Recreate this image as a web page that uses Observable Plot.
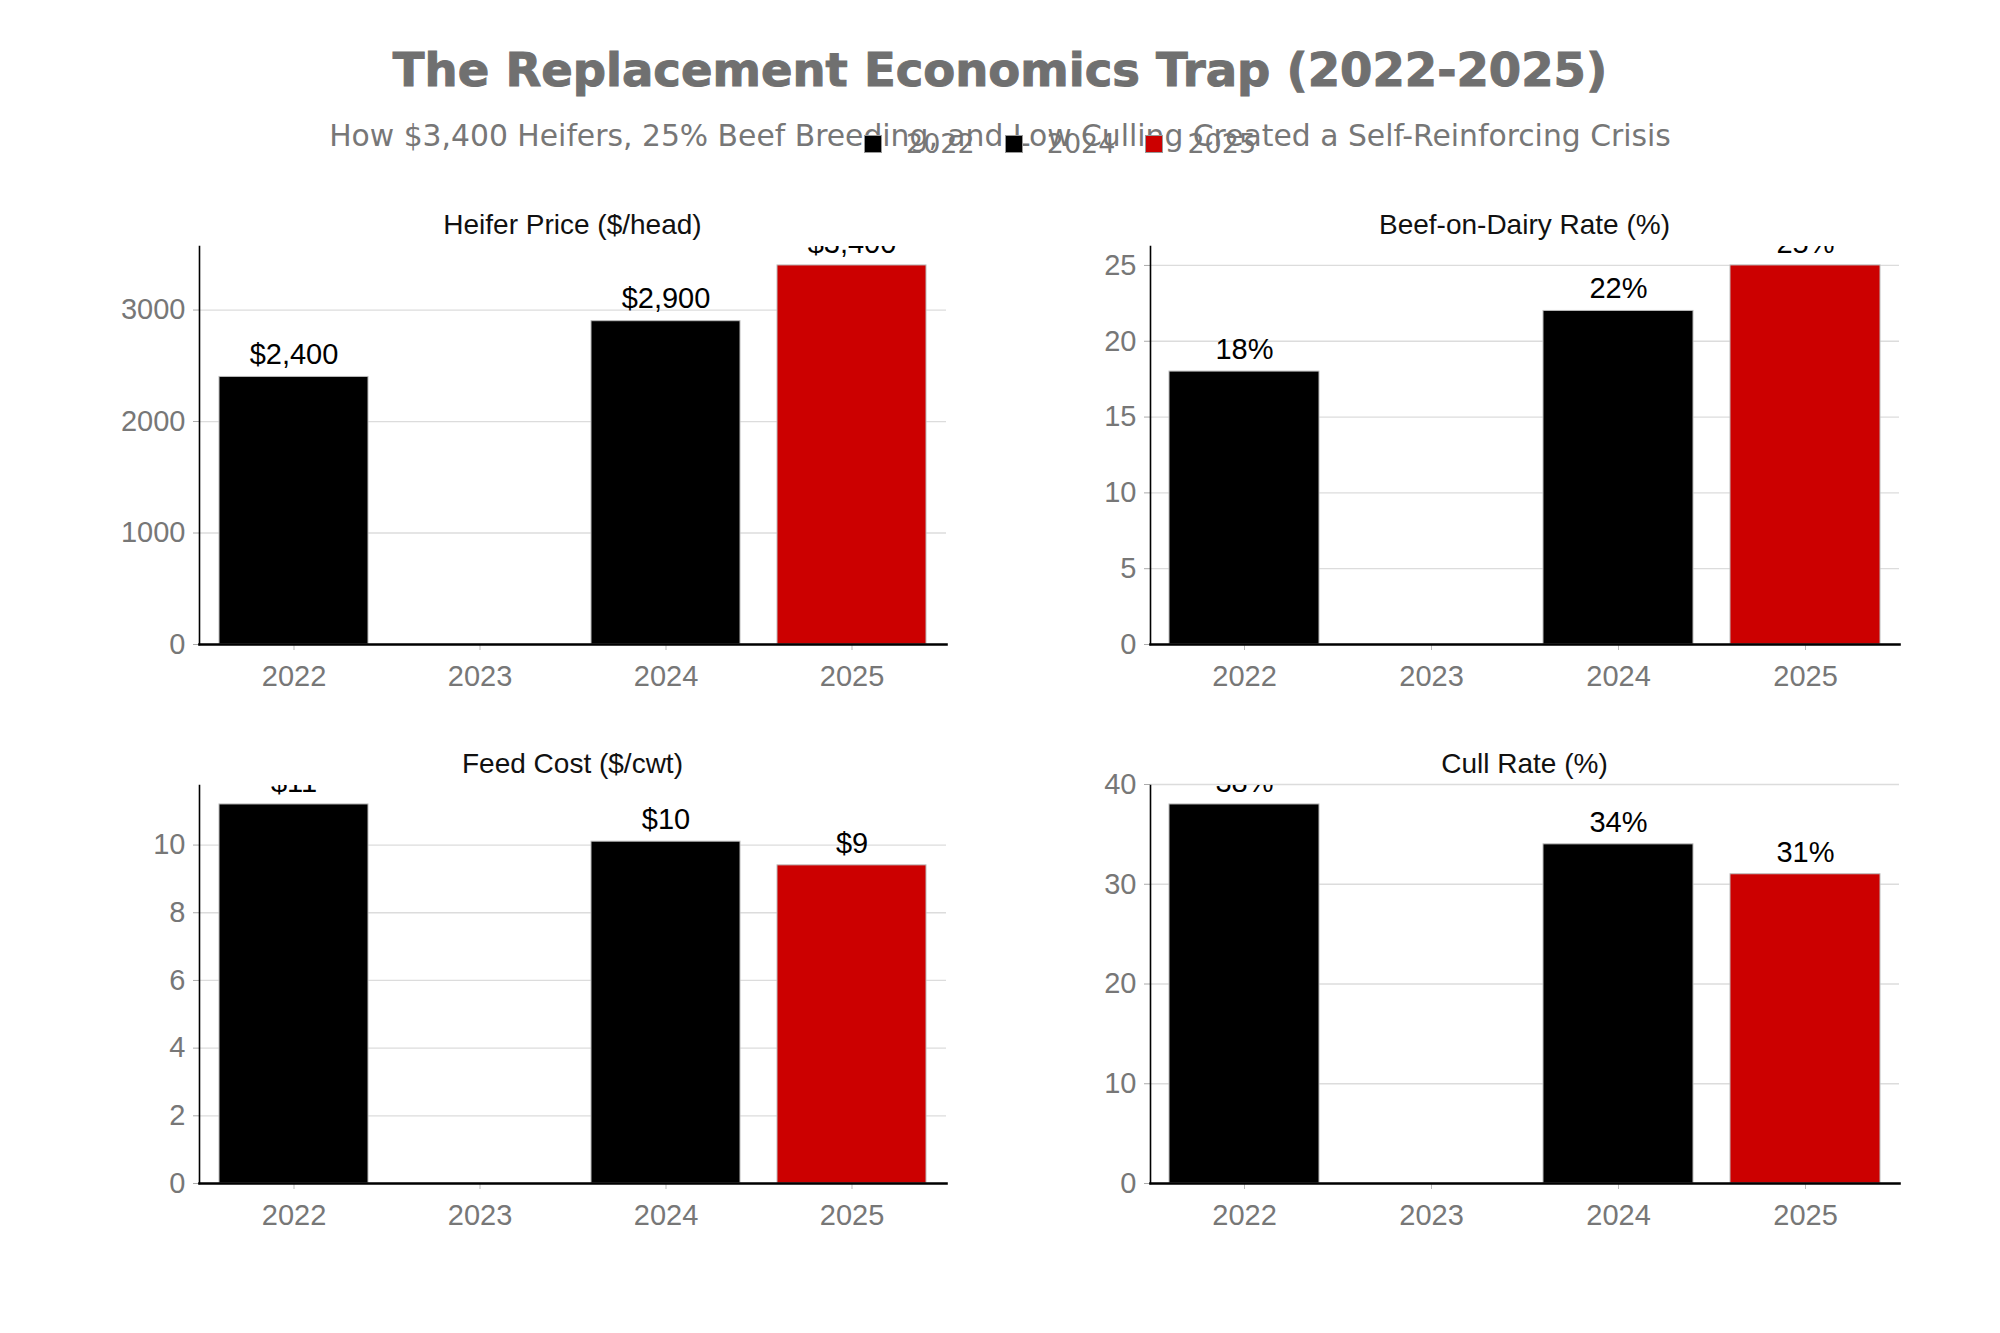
<!DOCTYPE html>
<html>
<head>
<meta charset="utf-8">
<script src="https://cdn.jsdelivr.net/npm/d3@7"></script>
<script src="https://cdn.jsdelivr.net/npm/@observablehq/plot@0.6"></script>
<style>
  html, body { margin: 0; padding: 0; background: white; }
  #page { position: relative; width: 2000px; height: 1333px; overflow: hidden; background: white; }
  .abs { position: absolute; }
  #title { left: 0; width: 2000px; top: 40px; text-align: center; font-family: "DejaVu Sans"; font-weight: bold; font-size: 46.5px; color: #707070; line-height: 60px; -webkit-text-stroke: 1px #707070; }
  #subtitle { left: 0; width: 2000px; top: 117px; text-align: center; font-family: "DejaVu Sans"; font-size: 29.8px; color: #777; line-height: 38px; }
  .ptitle { font-family: "Liberation Sans", Arial, sans-serif; font-size: 28px; color: #111; text-align: center; line-height: 34px; }
  #legend { top: 128px; left: 864px; display: flex; align-items: center; font-family: "DejaVu Sans"; font-size: 27px; color: #777; }
  .item { display: flex; align-items: center; margin-right: 30px; }
  .sw { width: 18px; height: 18px; border: 1px solid #999; margin-right: 24px; box-sizing: border-box; }
</style>
</head>
<body>
<div id="page">
  <div id="title" class="abs">The Replacement Economics Trap (2022-2025)</div>
  <div id="subtitle" class="abs">How $3,400 Heifers, 25% Beef Breeding, and Low Culling Created a Self-Reinforcing Crisis</div>
  <div id="legend" class="abs"></div>
</div>
<script>
const years = ["2022", "2023", "2024", "2025"];
const legendYears = ["2022", "2024", "2025"];
const heiferPrice = [2400, null, 2900, 3400];
const beefOnDairy = [18, null, 22, 25];
const feedCost = [11.2, null, 10.1, 9.4];
const cullRate = [38, null, 34, 31];
const panelTitles = ["Heifer Price ($/head)", "Beef-on-Dairy Rate (%)", "Feed Cost ($/cwt)", "Cull Rate (%)"];
const heiferTicks = [0, 1000, 2000, 3000];
const beefTicks = [0, 5, 10, 15, 20, 25];
const feedTicks = [0, 2, 4, 6, 8, 10];
const cullTicks = [0, 10, 20, 30, 40];
const yearColors = {"2022": "#000000", "2023": "#000000", "2024": "#000000", "2025": "#cc0000"};

const fmt = [
  v => "$" + d3.format(",")(v),
  v => d3.format(".0f")(v) + "%",
  v => "$" + d3.format(".0f")(v),
  v => d3.format(".0f")(v) + "%"
];
const series = [heiferPrice, beefOnDairy, feedCost, cullRate];
const tickSets = [heiferTicks, beefTicks, feedTicks, cullTicks];

const page = document.getElementById("page");

// legend
const legend = document.getElementById("legend");
legendYears.forEach(y => {
  const it = document.createElement("div");
  it.className = "item";
  const sw = document.createElement("div");
  sw.className = "sw";
  sw.style.background = yearColors[y];
  const lb = document.createElement("span");
  lb.textContent = y;
  it.appendChild(sw); it.appendChild(lb);
  legend.appendChild(it);
});

const MT = 11;
const layout = [
  {left: 0, top: 235, ml: 199, mr: 54},
  {left: 1000, top: 235, ml: 150, mr: 101},
  {left: 0, top: 774, ml: 199, mr: 54},
  {left: 1000, top: 774, ml: 150, mr: 101}
];

series.forEach((vals, i) => {
  const data = years.map((y, j) => ({year: y, value: vals[j]})).filter(d => d.value != null);
  const max = d3.max(vals);
  const L = layout[i];
  const chart = Plot.plot({
    width: 1000,
    height: 485,
    marginTop: MT,
    marginBottom: 76,
    marginLeft: L.ml,
    marginRight: L.mr,
    style: {overflow: "visible", fontFamily: "Liberation Sans, Arial, sans-serif", fontSize: "29px", background: "transparent"},
    x: {domain: years, paddingInner: 0.2, paddingOuter: 0.1, label: null},
    y: {domain: [0, max * 1.05], label: null},
    marks: [
      Plot.gridY(tickSets[i], {stroke: "#dcdcdc", strokeOpacity: 1, strokeWidth: 1.3}),
      Plot.barY(data, {x: "year", y: "value", fill: d => yearColors[d.year], stroke: "#bbb", strokeWidth: 1}),
      Plot.text(data, {x: "year", y: "value", text: d => fmt[i](d.value), dy: -22, fill: "#000", fontSize: 29, clip: "frame"}),
      Plot.axisY({ticks: tickSets[i], tickSize: 6, tickPadding: 8, stroke: "#aaa", color: "#777", fontSize: 29, tickFormat: d3.format("d")}),
      Plot.axisX({tickSize: 6, tickPadding: 15, stroke: "#bbb", color: "#777", fontSize: 29}),
      Plot.frame({anchor: "left", stroke: "#000", strokeWidth: 1.6}),
      Plot.frame({anchor: "bottom", stroke: "#000", strokeWidth: 2.6})
    ]
  });
  chart.style.position = "absolute";
  chart.style.left = L.left + "px";
  chart.style.top = L.top + "px";
  page.appendChild(chart);

  const t = document.createElement("div");
  t.className = "abs ptitle";
  t.textContent = panelTitles[i];
  const cx = L.left + L.ml + (1000 - L.ml - L.mr) / 2;
  t.style.left = (cx - 300) + "px";
  t.style.width = "600px";
  t.style.top = (L.top + MT - 21 - 17) + "px";
  page.appendChild(t);
});
</script>
</body>
</html>
